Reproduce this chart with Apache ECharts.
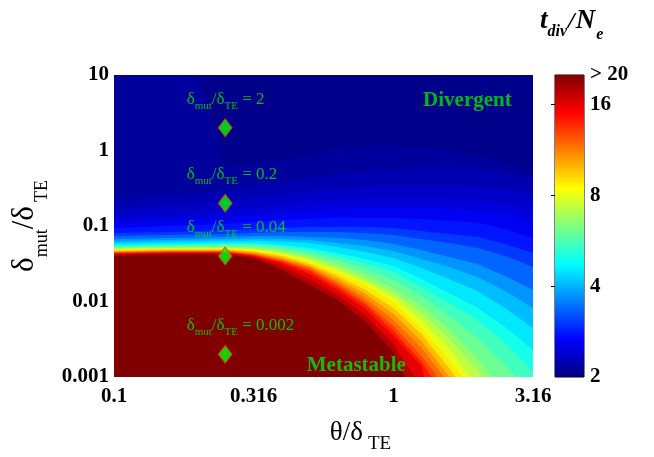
<!DOCTYPE html>
<html><head><meta charset="utf-8">
<script src="https://cdn.jsdelivr.net/npm/echarts@6/dist/echarts.min.js"></script>
<style>html,body{margin:0;padding:0;background:#fff}#c{width:654px;height:457px}</style>
</head><body><div id="c"></div>
<script>
// x samples (theta/delta_TE) at which contour heights were read
const xSamples = [0.1,0.126,0.158,0.2,0.251,0.316,0.398,0.501,0.631,0.794,1,1.26,1.58,2,2.51,3.16];
// contour levels of t_div/N_e
const levelValues = [2.09,2.19,2.30,2.40,2.52,2.67,2.91,3.17,3.56,3.90,4.28,4.74,5.20,5.77,6.32,6.93,7.60,8.43,9.25,10.3,11.2,12.3,13.5,15.0,16.8,18.9];
// delta_mut/delta_TE at which each level is crossed (values >= level lie below)
const contourY = [
 [10,10,10,10,0.642,0.683,0.748,0.871,1.08,1.18,1.18,1.11,1.02,0.871,0.704,0.535],
 [0.221,0.235,0.250,0.274,0.300,0.339,0.383,0.432,0.488,0.535,0.569,0.586,0.604,0.586,0.519,0.407],
 [0.163,0.173,0.184,0.196,0.214,0.235,0.257,0.282,0.309,0.328,0.339,0.339,0.339,0.328,0.300,0.257],
 [0.128,0.136,0.140,0.149,0.158,0.173,0.184,0.202,0.214,0.228,0.228,0.228,0.228,0.221,0.202,0.173],
 [0.110,0.113,0.117,0.124,0.128,0.140,0.149,0.158,0.168,0.173,0.173,0.173,0.168,0.163,0.144,0.113],
 [0.094,0.097,0.100,0.103,0.106,0.113,0.120,0.124,0.128,0.128,0.128,0.124,0.117,0.110,0.0912,0.0693],
 [0.0807,0.082,0.0832,0.0858,0.0885,0.0912,0.094,0.097,0.097,0.097,0.094,0.0858,0.0783,0.0715,0.0577,0.0439],
 [0.0737,0.0748,0.0760,0.0771,0.0783,0.0807,0.0832,0.0832,0.0832,0.0807,0.0760,0.0672,0.0595,0.0511,0.0400,0.0286],
 [0.0672,0.0683,0.0693,0.0704,0.0715,0.0737,0.0737,0.0715,0.0693,0.0652,0.0577,0.0481,0.0388,0.0314,0.0218,0.0142],
 [0.0633,0.0642,0.0652,0.0662,0.0672,0.0683,0.0672,0.0652,0.0595,0.0543,0.0466,0.0365,0.0286,0.0211,0.0138,0.0082],
 [0.0595,0.0604,0.0614,0.0623,0.0633,0.0642,0.0623,0.0595,0.0527,0.0452,0.0377,0.0278,0.0199,0.0138,0.0082,0.00446],
 [0.0560,0.0569,0.0577,0.0586,0.0595,0.0595,0.0560,0.0511,0.0439,0.0365,0.0295,0.0199,0.0130,0.0082,0.00459,0.00228],
 [0.0543,0.0551,0.0560,0.0569,0.0577,0.0577,0.0543,0.0481,0.0400,0.0323,0.0246,0.0156,0.00955,0.00569,0.00282,0.00117],
 [0.0527,0.0535,0.0543,0.0551,0.0560,0.0551,0.0511,0.0439,0.0354,0.0269,0.0193,0.0118,0.00642,0.00328,0.00144],
 [0.0511,0.0519,0.0527,0.0527,0.0527,0.0519,0.0481,0.0400,0.0314,0.0224,0.0151,0.00871,0.00432,0.00179],
 [0.0503,0.0511,0.0511,0.0511,0.0511,0.0503,0.0452,0.0377,0.0286,0.0199,0.0130,0.00704,0.00328,0.00124],
 [0.0488,0.0496,0.0503,0.0503,0.0503,0.0488,0.0432,0.0354,0.0261,0.0181,0.0115,0.00569,0.00242],
 [0.0481,0.0488,0.0496,0.0496,0.0496,0.0474,0.0413,0.0333,0.0238,0.0165,0.00985,0.00446,0.00168],
 [0.0474,0.0481,0.0488,0.0488,0.0488,0.0459,0.0400,0.0314,0.0218,0.0142,0.0082,0.00371,0.00132],
 [0.0459,0.0466,0.0474,0.0474,0.0474,0.0446,0.0377,0.0295,0.0199,0.0126,0.00683,0.0030],
 [0.0452,0.0459,0.0466,0.0466,0.0466,0.0432,0.0365,0.0286,0.0181,0.0111,0.00569,0.00242],
 [0.0446,0.0452,0.0459,0.0459,0.0459,0.0419,0.0349,0.0269,0.0171,0.00985,0.00474,0.0019],
 [0.0439,0.0446,0.0452,0.0452,0.0452,0.0413,0.0339,0.0253,0.0156,0.00898,0.00407,0.00158],
 [0.0432,0.0439,0.0446,0.0446,0.0446,0.0400,0.0323,0.0231,0.0142,0.00795,0.00349,0.0014],
 [0.0419,0.0426,0.0432,0.0432,0.0432,0.0388,0.0295,0.0199,0.0122,0.00662,0.00274],
 [0.0400,0.0413,0.0419,0.0419,0.0419,0.0377,0.0261,0.0165,0.0105,0.00535,0.00214]
];
// theta/delta_TE where a contour reaches the bottom edge (null: it reaches the right edge)
const contourEndX = [null,null,null,null,null,null,null,null,null,null,null,null,null,2.74,2.26,2.08,1.89,1.77,1.67,1.59,1.52,1.44,1.37,1.29,1.19,1.10];
const baseValue = 2.05;

const markerX = [0.25,0.25,0.25,0.25];
const markerY = [2,0.2,0.04,0.002];
const markerText = ['2','0.2','0.04','0.002'];
const regionNames = ['Divergent','Metastable'];
const regionX = [1.84,0.737];
const regionY = [4.53,0.0014];

const xTicks = [0.1,0.316,1,3.16];
const yTicks = [0.001,0.01,0.1,1,10];
const cbTicks = [2,4,8,16];
const cbMin = 2, cbMax = 20;

const FONT = 'Liberation Serif';
const GREEN = '#00e600';
function jet(t){
  t = Math.max(0, Math.min(1, t));
  const c = x => Math.round(255 * Math.max(0, Math.min(1, x)));
  return 'rgb(' + c(1.5 - Math.abs(4*t - 3)) + ',' + c(1.5 - Math.abs(4*t - 2)) + ',' + c(1.5 - Math.abs(4*t - 1)) + ')';
}
function colourOf(v){ return jet(Math.log10(v / cbMin) / Math.log10(cbMax / cbMin)); }
const levelColours = levelValues.map((v, i) =>
  i < levelValues.length - 1 ? colourOf(Math.sqrt(v * levelValues[i + 1])) : colourOf(cbMax));

const chart = echarts.init(document.getElementById('c'), null, {renderer: 'canvas'});
const yMin = yTicks[0], xMin = xTicks[0], xMax = xTicks[xTicks.length - 1];

function fmt(v){ return String(parseFloat(Number(v).toPrecision(3))); }

const labelStyle = {fontFamily: FONT, fontWeight: 'bold', fontSize: 21, color: '#000'};

const option = {
  animation: false,
  backgroundColor: '#fff',
  title: {
    left: 535, top: 3,
    text: '{t|t}{s|div}{m|/}{t|N}{e|e}',
    textStyle: {
      rich: {
        t: {fontFamily: FONT, fontWeight: 'bold', fontStyle: 'italic', fontSize: 27, lineHeight: 27, color: '#000'},
        s: {fontFamily: FONT, fontWeight: 'bold', fontStyle: 'italic', fontSize: 16, lineHeight: 27, padding: [21, 0, 0, 0], color: '#000'},
        e: {fontFamily: FONT, fontWeight: 'bold', fontStyle: 'italic', fontSize: 16, lineHeight: 27, padding: [26, 0, 0, 1], color: '#000'},
        m: {fontFamily: FONT, fontStyle: 'italic', fontSize: 24, lineHeight: 27, padding: [0, 1, 0, 1], color: '#000'}
      }
    }
  },
  grid: [
    {left: 114, top: 75, width: 419, height: 302, outerBoundsMode: 'none', containLabel: false,
     show: true, backgroundColor: colourOf(baseValue), borderWidth: 0},
    {left: 555, top: 75, width: 29, height: 302, outerBoundsMode: 'none', containLabel: false,
     show: true, backgroundColor: 'transparent', borderColor: '#000', borderWidth: 1}
  ],
  xAxis: [
    {type: 'log', logBase: 10, min: xMin, max: xMax, gridIndex: 0,
     axisLine: {show: false}, axisTick: {show: false}, splitLine: {show: false},
     axisLabel: Object.assign({customValues: xTicks, margin: 9, formatter: fmt}, labelStyle),
     name: '{a|θ/δ}{s|TE}', nameLocation: 'middle', nameGap: 37,
     nameTextStyle: {padding: [0, 0, 0, 74], rich: {
       a: {fontFamily: FONT, fontSize: 27, lineHeight: 27, color: '#000'},
       s: {fontFamily: FONT, fontSize: 19, lineHeight: 27, padding: [23, 0, 0, 5], color: '#000'}
     }}},
    {type: 'value', min: 0, max: 1, gridIndex: 1, show: false}
  ],
  yAxis: [
    {type: 'log', logBase: 10, min: yMin, max: yTicks[yTicks.length - 1], gridIndex: 0,
     axisLine: {show: false}, axisTick: {show: false}, splitLine: {show: false},
     axisLabel: Object.assign({customValues: yTicks, margin: 5, formatter: fmt}, labelStyle),
     name: '{a|δ}{s|mut}{a|/δ}{t|TE}', nameLocation: 'middle', nameRotate: 90, nameGap: 68,
     nameTextStyle: {rich: {
       a: {fontFamily: FONT, fontSize: 31, lineHeight: 30, color: '#000'},
       s: {fontFamily: FONT, fontSize: 18, lineHeight: 30, padding: [34, 0, 0, 0], color: '#000'},
       t: {fontFamily: FONT, fontSize: 18, lineHeight: 30, padding: [34, 0, 0, 4], color: '#000'}
     }}},
    {type: 'log', logBase: 2, min: cbMin, max: cbMax, gridIndex: 1, position: 'right',
     axisLine: {show: false}, splitLine: {show: false},
     axisTick: {show: true, inside: true, length: 4, customValues: cbTicks.slice(1), lineStyle: {color: '#000'}},
     axisLabel: Object.assign({customValues: cbTicks.concat([cbMax]), margin: 6, padding: [5, 0, 0, 0],
       formatter: v => (v >= cbMax * 0.999 ? '> ' + cbMax : fmt(v))}, labelStyle)},
    {type: 'log', logBase: 2, min: cbMin, max: cbMax, gridIndex: 1, position: 'left',
     axisLine: {show: false}, splitLine: {show: false}, axisLabel: {show: false},
     axisTick: {show: true, inside: true, length: 4, customValues: cbTicks.slice(1), lineStyle: {color: '#000'}}}
  ],
  series: [
    {
      type: 'custom', name: 'field', xAxisIndex: 0, yAxisIndex: 0, clip: true, silent: true,
      data: levelValues.map((v, i) => [xSamples[0], contourY[i][0], i]),
      encode: {x: 0, y: 1},
      renderItem: (params, api) => {
        const i = params.dataIndex;
        const ys = contourY[i];
        const pts = ys.map((y, k) => api.coord([xSamples[k], y]));
        const endX = contourEndX[i] != null ? contourEndX[i] : xSamples[ys.length - 1];
        pts.push(api.coord([endX, yMin]));
        pts.push(api.coord([xSamples[0], yMin]));
        return {type: 'polygon', shape: {points: pts}, style: {fill: levelColours[i], stroke: null}};
      }
    },
    {
      type: 'custom', name: 'colorbar', xAxisIndex: 1, yAxisIndex: 1, silent: true,
      data: [[0, cbMin]],
      encode: {x: 0, y: 1},
      renderItem: (params, api) => {
        const p0 = api.coord([0, cbMin]);
        const p1 = api.coord([1, cbMax]);
        const stops = [0, 0.125, 0.375, 0.625, 0.875, 1].map(t => ({offset: t, color: jet(t)}));
        return {type: 'rect', shape: {x: p0[0], y: p1[1], width: p1[0] - p0[0], height: p0[1] - p1[1]},
          style: {fill: new echarts.graphic.LinearGradient(0, 1, 0, 0, stops), stroke: null}};
      }
    },
    {
      type: 'scatter', name: 'markers', xAxisIndex: 0, yAxisIndex: 0, z: 5, silent: true,
      symbol: 'diamond', symbolSize: [14, 18],
      itemStyle: {color: '#00ff00', borderColor: '#ff2020', borderWidth: 1},
      data: markerX.map((x, i) => [x, markerY[i], markerText[i]]),
      label: {
        show: true, position: [-31, -19], align: 'left', verticalAlign: 'middle',
        formatter: p => '{d|δ}{s|mut}{d|/δ}{s|TE}{d| = ' + p.data[2] + '}',
        rich: {
          d: {fontFamily: FONT, fontSize: 17, lineHeight: 17, color: GREEN},
          s: {fontFamily: FONT, fontSize: 11, lineHeight: 17, padding: [13, 0, 0, 0], color: GREEN}
        }
      }
    },
    {
      type: 'scatter', name: 'regions', xAxisIndex: 0, yAxisIndex: 0, z: 5, silent: true,
      symbolSize: 0,
      data: regionNames.map((n, i) => [regionX[i], regionY[i], n]),
      label: {show: true, position: 'inside', formatter: p => p.data[2],
        fontFamily: FONT, fontWeight: 'bold', fontSize: 21, color: GREEN}
    }
  ]
};
chart.setOption(option);
</script>
</body></html>
